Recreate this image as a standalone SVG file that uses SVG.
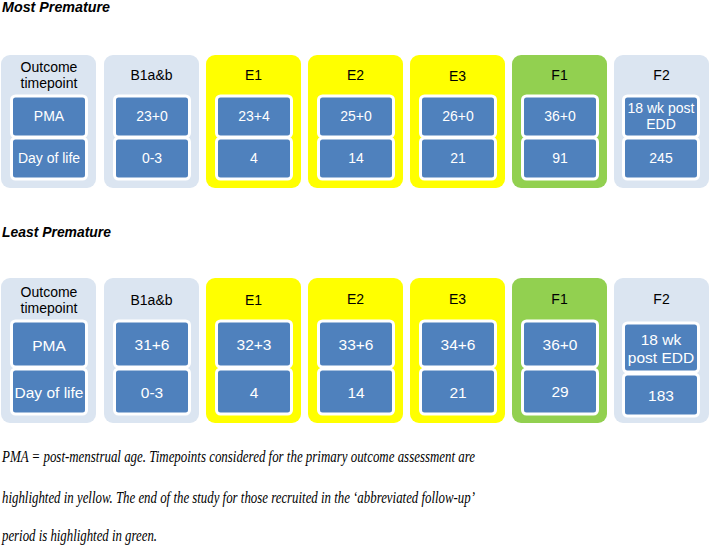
<svg xmlns="http://www.w3.org/2000/svg" width="712" height="546" viewBox="0 0 712 546">
<style>
.bg{fill:#fff}
.grey{fill:#DBE5F1}
.yel{fill:#FFFF00}
.grn{fill:#92D050}
.in{fill:#4F81BD;stroke:#fff;stroke-width:3}
.h{font-family:"Liberation Sans",Arial,sans-serif;font-size:14px;fill:#000;text-anchor:middle;dominant-baseline:central}
.t{font-family:"Liberation Sans",Arial,sans-serif;font-size:14px;fill:#fff;text-anchor:middle;dominant-baseline:central}
.t2{font-family:"Liberation Sans",Arial,sans-serif;font-size:15.5px;fill:#fff;text-anchor:middle;dominant-baseline:central}
.title{font-family:"Liberation Sans",Arial,sans-serif;font-size:14.5px;font-weight:bold;font-style:italic;fill:#000}
.cap{font-family:"Liberation Serif","Times New Roman",serif;font-size:17.5px;font-style:italic;fill:#000}
</style>
<rect class="bg" x="0" y="0" width="712" height="546"/>
<text class="title" x="2" y="12" textLength="108" lengthAdjust="spacingAndGlyphs">Most Premature</text>
<text class="title" x="2" y="237" textLength="109" lengthAdjust="spacingAndGlyphs">Least Premature</text>

<g id="top-outcome">
<rect class="grey" x="1" y="55" width="95" height="133" rx="9"/>
<text class="h" x="49" y="67">Outcome</text>
<text class="h" x="49" y="83">timepoint</text>
<rect class="in" x="11.5" y="96" width="75" height="41" rx="4"/>
<text class="t" x="49" y="116">PMA</text>
<rect class="in" x="11.5" y="138" width="75" height="41" rx="4"/>
<text class="t" x="49" y="158">Day of life</text>
</g>
<g id="top-b1">
<rect class="grey" x="104" y="55" width="95" height="133" rx="9"/>
<text class="h" x="151.5" y="75">B1a&amp;b</text>
<rect class="in" x="114.5" y="96" width="75" height="41" rx="4"/>
<text class="t" x="152" y="116">23+0</text>
<rect class="in" x="114.5" y="138" width="75" height="41" rx="4"/>
<text class="t" x="152" y="158">0-3</text>
</g>
<g id="top-e1">
<rect class="yel" x="206" y="55" width="95" height="133" rx="9"/>
<text class="h" x="253.5" y="75">E1</text>
<rect class="in" x="216.5" y="96" width="75" height="41" rx="4"/>
<text class="t" x="254" y="116">23+4</text>
<rect class="in" x="216.5" y="138" width="75" height="41" rx="4"/>
<text class="t" x="254" y="158">4</text>
</g>
<g id="top-e2">
<rect class="yel" x="308" y="55" width="95" height="133" rx="9"/>
<text class="h" x="355.5" y="75">E2</text>
<rect class="in" x="318.5" y="96" width="75" height="41" rx="4"/>
<text class="t" x="356" y="116">25+0</text>
<rect class="in" x="318.5" y="138" width="75" height="41" rx="4"/>
<text class="t" x="356" y="158">14</text>
</g>
<g id="top-e3">
<rect class="yel" x="410" y="55" width="95" height="133" rx="9"/>
<text class="h" x="457.5" y="76">E3</text>
<rect class="in" x="420.5" y="96" width="75" height="41" rx="4"/>
<text class="t" x="458" y="116">26+0</text>
<rect class="in" x="420.5" y="138" width="75" height="41" rx="4"/>
<text class="t" x="458" y="158">21</text>
</g>
<g id="top-f1">
<rect class="grn" x="512" y="55" width="95" height="133" rx="9"/>
<text class="h" x="559.5" y="75">F1</text>
<rect class="in" x="522.5" y="96" width="75" height="41" rx="4"/>
<text class="t" x="560" y="116">36+0</text>
<rect class="in" x="522.5" y="138" width="75" height="41" rx="4"/>
<text class="t" x="560" y="158">91</text>
</g>
<g id="top-f2">
<rect class="grey" x="614" y="55" width="95" height="133" rx="9"/>
<text class="h" x="661.5" y="75">F2</text>
<rect class="in" x="623.5" y="96" width="75" height="41" rx="4"/>
<text class="t" x="661" y="108">18 wk post</text>
<text class="t" x="661" y="124">EDD</text>
<rect class="in" x="623.5" y="138" width="75" height="41" rx="4"/>
<text class="t" x="661" y="158">245</text>
</g>

<g id="bot-outcome">
<rect class="grey" x="1" y="278" width="95" height="145" rx="9"/>
<text class="h" x="49" y="292">Outcome</text>
<text class="h" x="49" y="308">timepoint</text>
<rect class="in" x="11.5" y="321" width="75" height="46" rx="4"/>
<text class="t2" x="49" y="345">PMA</text>
<rect class="in" x="11.5" y="369" width="75" height="45" rx="4"/>
<text class="t2" x="49" y="392">Day of life</text>
</g>
<g id="bot-b1">
<rect class="grey" x="104" y="278" width="95" height="145" rx="9"/>
<text class="h" x="151.5" y="300">B1a&amp;b</text>
<rect class="in" x="114.5" y="321" width="75" height="46" rx="4"/>
<text class="t2" x="152" y="344">31+6</text>
<rect class="in" x="114.5" y="369" width="75" height="45" rx="4"/>
<text class="t2" x="152" y="392">0-3</text>
</g>
<g id="bot-e1">
<rect class="yel" x="206" y="278" width="95" height="145" rx="9"/>
<text class="h" x="253.5" y="300">E1</text>
<rect class="in" x="216.5" y="321" width="75" height="46" rx="4"/>
<text class="t2" x="254" y="344">32+3</text>
<rect class="in" x="216.5" y="369" width="75" height="45" rx="4"/>
<text class="t2" x="254" y="392">4</text>
</g>
<g id="bot-e2">
<rect class="yel" x="308" y="278" width="95" height="145" rx="9"/>
<text class="h" x="355.5" y="299">E2</text>
<rect class="in" x="318.5" y="321" width="75" height="46" rx="4"/>
<text class="t2" x="356" y="344">33+6</text>
<rect class="in" x="318.5" y="369" width="75" height="45" rx="4"/>
<text class="t2" x="356" y="392">14</text>
</g>
<g id="bot-e3">
<rect class="yel" x="410" y="278" width="95" height="145" rx="9"/>
<text class="h" x="457.5" y="299">E3</text>
<rect class="in" x="420.5" y="321" width="75" height="46" rx="4"/>
<text class="t2" x="458" y="344">34+6</text>
<rect class="in" x="420.5" y="369" width="75" height="45" rx="4"/>
<text class="t2" x="458" y="392">21</text>
</g>
<g id="bot-f1">
<rect class="grn" x="512" y="278" width="95" height="145" rx="9"/>
<text class="h" x="559.5" y="299">F1</text>
<rect class="in" x="522.5" y="321" width="75" height="46" rx="4"/>
<text class="t2" x="560" y="344">36+0</text>
<rect class="in" x="522.5" y="369" width="75" height="45" rx="4"/>
<text class="t2" x="560" y="391">29</text>
</g>
<g id="bot-f2">
<rect class="grey" x="614" y="278" width="95" height="145" rx="9"/>
<text class="h" x="661.5" y="299">F2</text>
<rect class="in" x="623.5" y="323" width="75" height="49" rx="4"/>
<text class="t2" x="661" y="339">18 wk</text>
<text class="t2" x="661" y="357">post EDD</text>
<rect class="in" x="623.5" y="374" width="75" height="42" rx="4"/>
<text class="t2" x="661" y="395">183</text>
</g>

<text class="cap" x="2" y="461.5" textLength="473" lengthAdjust="spacingAndGlyphs">PMA = post-menstrual age. Timepoints considered for the primary outcome assessment are</text>
<text class="cap" x="2" y="503" textLength="473" lengthAdjust="spacingAndGlyphs">highlighted in yellow. The end of the study for those recruited in the ‘abbreviated follow-up’</text>
<text class="cap" x="2" y="540.5" textLength="155" lengthAdjust="spacingAndGlyphs">period is highlighted in green.</text>
</svg>
